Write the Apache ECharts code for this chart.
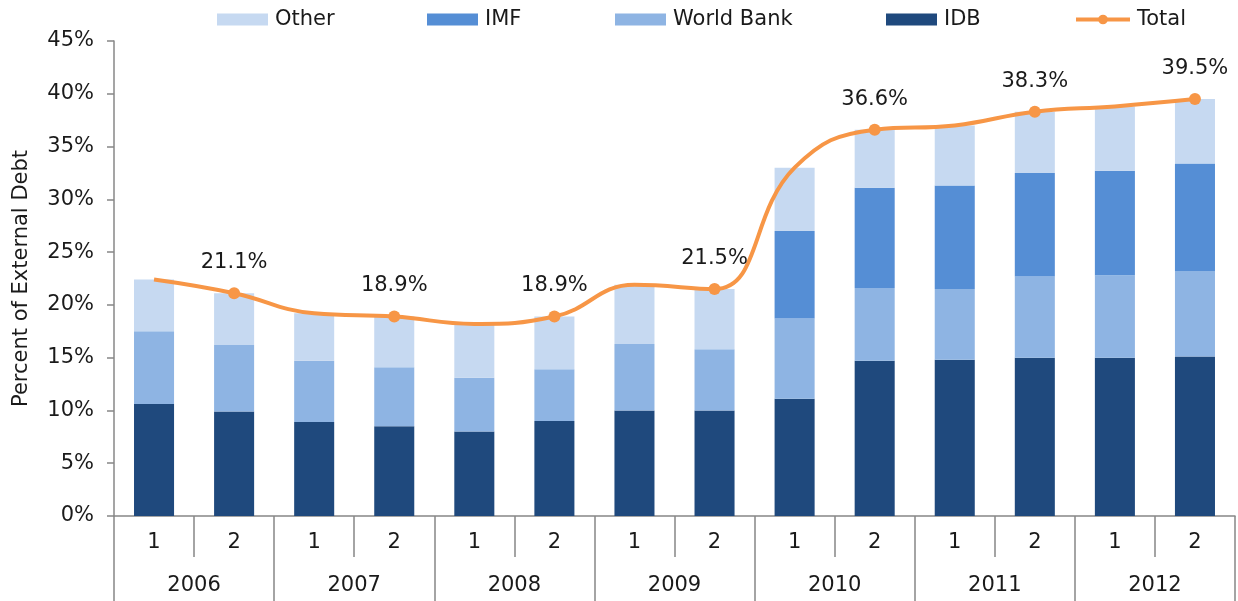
<!DOCTYPE html>
<html>
<head>
<meta charset="utf-8">
<script src="https://cdn.jsdelivr.net/npm/echarts@6/dist/echarts.min.js"></script>
<style>
  html, body { margin: 0; padding: 0; background: #fff; }
  #chart { width: 1238px; height: 601px; }
</style>
</head>
<body>
<div id="chart"></div>
<script>
// semesters and years on the two-level x axis
const semesters = ['1','2','1','2','1','2','1','2','1','2','1','2','1','2']
const years = ['2006','2007','2008','2009','2010','2011','2012']

// stacked components, percent of external debt
const idb = [10.6, 9.9, 8.9, 8.5, 8.0, 9.0, 10.0, 10.0, 11.1, 14.7, 14.8, 15.0, 15.0, 15.1]
const worldBank = [6.9, 6.3, 5.8, 5.6, 5.1, 4.9, 6.3, 5.8, 7.6, 6.9, 6.7, 7.7, 7.8, 8.1]
const imf = [0, 0, 0, 0, 0, 0, 0, 0, 8.3, 9.5, 9.8, 9.8, 9.9, 10.2]
const other = [4.9, 4.9, 4.5, 4.8, 5.1, 5.0, 5.6, 5.7, 6.0, 5.5, 5.7, 5.8, 6.1, 6.1]
const total = [22.4, 21.1, 19.2, 18.9, 18.2, 18.9, 21.9, 21.5, 33.0, 36.6, 37.0, 38.3, 38.8, 39.5]

const yTicks = [0, 5, 10, 15, 20, 25, 30, 35, 40, 45]

const FONT = 'DejaVu Sans'
const TXT = '#1a1a1a'
const AXIS = '#878787'
const ORANGE = '#F79646'

const chart = echarts.init(document.getElementById('chart'))

const legendItem = (name, left, w, icon) => ({
  data: [icon ? { name: name, icon: icon } : name],
  left: left,
  top: 4,
  itemWidth: w,
  itemHeight: 12,
  itemGap: 6,
  lineStyle: { width: 4 },
  textStyle: { fontFamily: FONT, fontSize: 21, color: TXT, padding: [0, 0, 0, 2] },
  selectedMode: false
})

chart.setOption({
  backgroundColor: '#fff',
  animation: false,
  textStyle: { fontFamily: FONT },
  legend: [
    legendItem('Other', 212, 51, 'rect'),
    legendItem('IMF', 422, 51, 'rect'),
    legendItem('World Bank', 610, 51, 'rect'),
    legendItem('IDB', 881, 51, 'rect'),
    legendItem('Total', 1069, 54)
  ],
  grid: { left: 114, right: 3, top: 41, bottom: 85, containLabel: false },
  xAxis: [
    {
      type: 'category',
      data: semesters,
      position: 'bottom',
      offset: 0,
      axisLine: { show: true, lineStyle: { color: AXIS, width: 1.5 } },
      axisTick: { show: true, interval: 0, length: 41, lineStyle: { color: AXIS, width: 1.5 } },
      axisLabel: { interval: 0, margin: 16, fontSize: 21, color: TXT, fontFamily: FONT }
    },
    {
      type: 'category',
      data: years,
      position: 'bottom',
      offset: 0,
      axisLine: { show: false },
      axisTick: { show: true, interval: 0, length: 85, lineStyle: { color: AXIS, width: 1.5 } },
      axisLabel: { interval: 0, margin: 59, fontSize: 21, color: TXT, fontFamily: FONT }
    }
  ],
  yAxis: {
    type: 'value',
    min: yTicks[0],
    max: yTicks[yTicks.length - 1],
    interval: 5,
    name: 'Percent of External Debt',
    nameLocation: 'middle',
    nameGap: 82,
    nameTextStyle: { fontSize: 21, color: TXT, fontFamily: FONT },
    axisLine: { show: true, lineStyle: { color: AXIS, width: 1.5 } },
    axisTick: { show: true, length: 7, lineStyle: { color: AXIS, width: 1.5 } },
    axisLabel: { margin: 20, fontSize: 21, color: TXT, fontFamily: FONT, formatter: v => v + '%' },
    splitLine: { show: false }
  },
  series: [
    { name: 'IDB', type: 'bar', stack: 'debt', data: idb, barWidth: '50%', itemStyle: { color: '#1F497D' } },
    { name: 'World Bank', type: 'bar', stack: 'debt', data: worldBank, itemStyle: { color: '#8EB4E3' } },
    { name: 'IMF', type: 'bar', stack: 'debt', data: imf, itemStyle: { color: '#558ED5' } },
    { name: 'Other', type: 'bar', stack: 'debt', data: other, itemStyle: { color: '#C6D9F1' } },
    {
      name: 'Total',
      type: 'line',
      data: total,
      smooth: 0.45,
      symbol: (v, p) => (p.dataIndex % 2 ? 'circle' : 'none'),
      symbolSize: 12,
      showAllSymbol: true,
      lineStyle: { color: ORANGE, width: 4 },
      itemStyle: { color: ORANGE },
      label: {
        show: true,
        position: 'top',
        distance: 14,
        fontSize: 21,
        color: TXT,
        fontFamily: FONT,
        formatter: p => (p.dataIndex % 2 ? p.value.toFixed(1) + '%' : '')
      },
      z: 5
    }
  ]
})
</script>
</body>
</html>
